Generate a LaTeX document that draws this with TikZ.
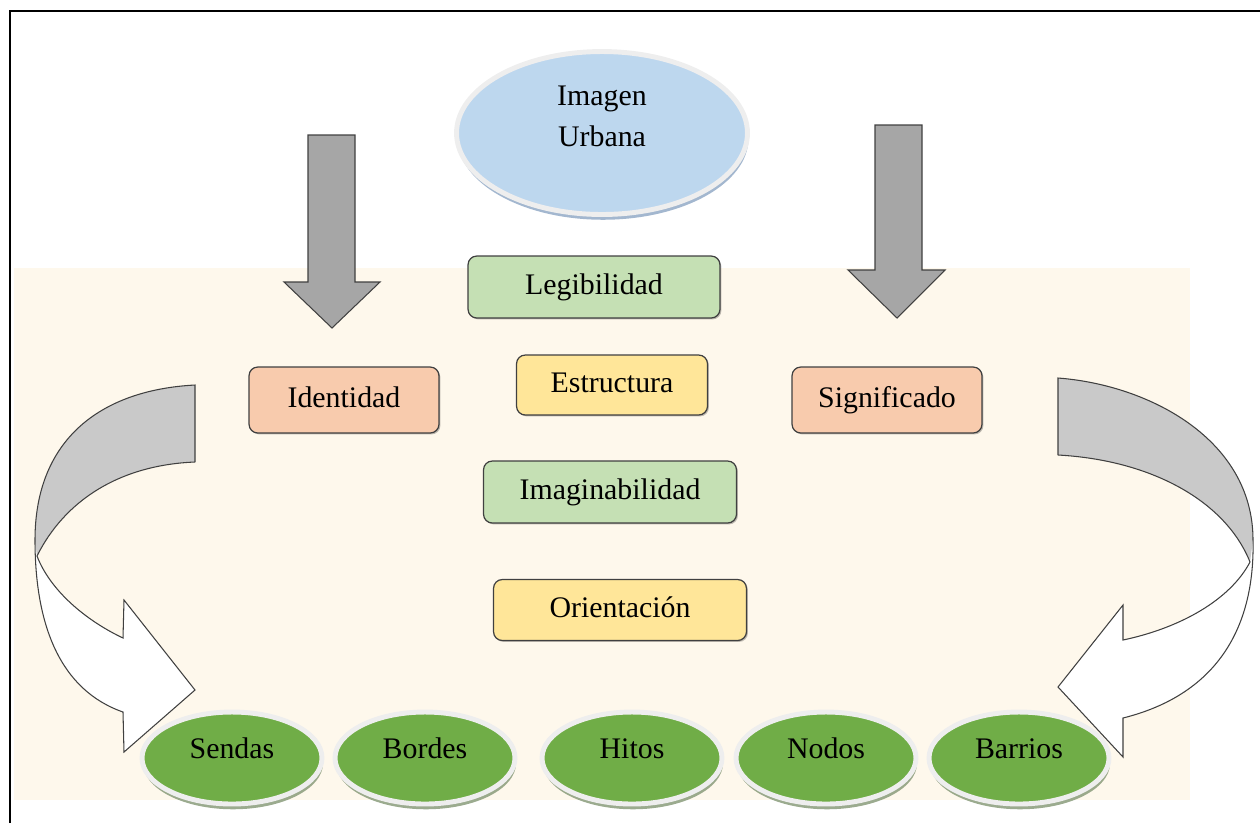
\documentclass[tikz,border=0pt]{standalone}
\usepackage{fontspec}
\setmainfont{Liberation Serif}
\usepackage{tikz}
\usetikzlibrary{positioning,shapes.geometric,shadows}
\definecolor{creambg}{RGB}{254,248,236}
\definecolor{skyfill}{RGB}{189,215,238}
\definecolor{leaffill}{RGB}{197,224,180}
\definecolor{sandfill}{RGB}{255,230,153}
\definecolor{peachfill}{RGB}{248,203,173}
\definecolor{grassfill}{RGB}{112,173,71}
\definecolor{rimgrey}{RGB}{238,238,238}
\definecolor{edgegrey}{RGB}{64,64,64}
\definecolor{shaftgrey}{RGB}{166,166,166}
\definecolor{bendgrey}{RGB}{201,201,201}
\tikzset{
  ideabox/.style={draw=edgegrey, rounded corners=5pt, line width=0.7pt, align=center, text height=0.42cm, text depth=0.12cm, font=\fontsize{17}{20}\selectfont, drop shadow={shadow xshift=0.8pt, shadow yshift=-0.8pt, fill=black, opacity=0.25}},
  cityoval/.style={ellipse, draw=rimgrey, line width=2.8pt, align=center, font=\fontsize{17}{23}\selectfont},
  elemoval/.style={cityoval, fill=grassfill, minimum width=3.6cm, minimum height=1.84cm, text height=0.42cm, text depth=0.42cm, drop shadow={shadow xshift=0.6pt, shadow yshift=-3pt, fill={rgb,255:red,130;green,150;blue,115}, opacity=0.8}},
  blockarrow/.style={draw=edgegrey, fill=shaftgrey, line width=0.6pt, line join=miter},
  bendarrow/.style={draw=edgegrey, line width=0.6pt}
}
\begin{document}
\begin{tikzpicture}[x=0.02cm, y=-0.02cm]
  \useasboundingbox (0,0) rectangle (1260,823);
  \fill[creambg] (14,268) rectangle (1190,800);
  \draw[line width=1.1pt] (10,823) -- (10,11) -- (1260,11);
  \node[cityoval, fill=skyfill, minimum width=5.82cm, minimum height=3.26cm, text height=1.2cm, text depth=0.68cm, drop shadow={shadow xshift=0.6pt, shadow yshift=-3pt, fill={rgb,255:red,140;green,165;blue,195}, opacity=0.8}] (urbana) at (602,133) {Imagen\\Urbana};
  \draw[blockarrow] (308,135) -- (355,135) -- (355,282) -- (380,282) -- (332,328) -- (284,282) -- (308,282) -- cycle;
  \draw[blockarrow] (875,125) -- (922,125) -- (922,270) -- (945,270) -- (897,318) -- (848,270) -- (875,270) -- cycle;
  \node[ideabox, fill=leaffill, minimum width=5.04cm, minimum height=1.24cm] (legib) at (594,287) {Legibilidad};
  \node[ideabox, fill=sandfill, minimum width=3.82cm, minimum height=1.2cm] (estruc) at (612,385) {Estructura};
  \node[ideabox, fill=peachfill, minimum width=3.8cm, minimum height=1.32cm] (ident) at (344,400) {Identidad};
  \node[ideabox, fill=peachfill, minimum width=3.8cm, minimum height=1.32cm] (signif) at (887,400) {Significado};
  \node[ideabox, fill=leaffill, minimum width=5.06cm, minimum height=1.24cm] (imagin) at (610,492) {Imaginabilidad};
  \node[ideabox, fill=sandfill, minimum width=5.06cm, minimum height=1.22cm] (orient) at (620,610) {Orientación};
  \fill[white] (35,540) .. controls (35,625) and (60,690) .. (123,712) -- (124,752) -- (195,690) -- (124,600) -- (123,638) .. controls (85,620) and (50,590) .. (37,556) -- cycle;
  \fill[bendgrey] (195,385) .. controls (100,390) and (35,440) .. (35,540) -- (37,556) .. controls (65,500) and (120,465) .. (195,462) -- cycle;
  \draw[bendarrow] (195,462) -- (195,385) .. controls (100,390) and (35,440) .. (35,540) .. controls (35,625) and (60,690) .. (123,712) -- (124,752) -- (195,690) -- (124,600) -- (123,638) .. controls (85,620) and (50,590) .. (37,556) .. controls (65,500) and (120,465) .. (195,462);
  \fill[white] (1253,540) .. controls (1255,630) and (1215,695) .. (1123,718) -- (1123,757) -- (1058,687) -- (1123,605) -- (1123,640) .. controls (1180,628) and (1230,600) .. (1250,562) -- cycle;
  \fill[bendgrey] (1058,378) .. controls (1150,385) and (1253,440) .. (1253,540) -- (1250,562) .. controls (1225,500) and (1150,460) .. (1058,455) -- cycle;
  \draw[bendarrow] (1058,455) -- (1058,378) .. controls (1150,385) and (1253,440) .. (1253,540) .. controls (1255,630) and (1215,695) .. (1123,718) -- (1123,757) -- (1058,687) -- (1123,605) -- (1123,640) .. controls (1180,628) and (1230,600) .. (1250,562) .. controls (1225,500) and (1150,460) .. (1058,455);
  \node[elemoval] (sendas) at (232,758) {Sendas};
  \node[elemoval] (bordes) at (425,758) {Bordes};
  \node[elemoval] (hitos) at (632,758) {Hitos};
  \node[elemoval] (nodos) at (826,758) {Nodos};
  \node[elemoval] (barrios) at (1019,758) {Barrios};
\end{tikzpicture}
\end{document}
